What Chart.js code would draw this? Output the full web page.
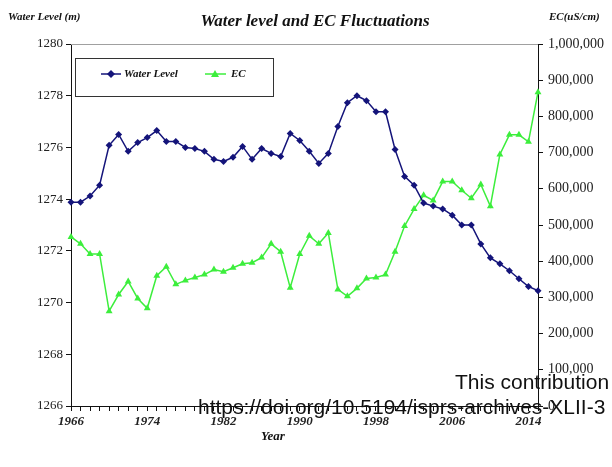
<!DOCTYPE html>
<html>
<head>
<meta charset="utf-8">
<script src="https://cdn.jsdelivr.net/npm/chart.js@4/dist/chart.umd.min.js"></script>
<style>
  html, body { margin: 0; padding: 0; background: #fff; }
  #wrap { position: relative; width: 612px; height: 467px; }
  canvas { display: block; }
  .wm { position: absolute; font-family: "Liberation Sans", Arial, sans-serif; font-size: 21px; color: #111; white-space: nowrap; }
</style>
</head>
<body>
<div id="wrap">
  <canvas id="grafico" width="612" height="467"></canvas>
  <div class="wm" style="left:455px; top:370px;">This contribution</div>
  <div class="wm" style="left:198px; top:395px;">https://doi.org/10.5194/isprs-archives-XLII-3</div>
</div>
<script>
// anos (um ponto por ano)
const anos = [1966,1967,1968,1969,1970,1971,1972,1973,1974,1975,
              1976,1977,1978,1979,1980,1981,1982,1983,1984,1985,
              1986,1987,1988,1989,1990,1991,1992,1993,1994,1995,
              1996,1997,1998,1999,2000,2001,2002,2003,2004,2005,
              2006,2007,2008,2009,2010,2011,2012,2013,2014,2015];

// nível da água (m)
const nivelAgua = [1273.88,1273.88,1274.12,1274.54,1276.08,1276.5,1275.85,1276.19,1276.38,1276.65,
                   1276.23,1276.23,1276.0,1275.96,1275.85,1275.54,1275.46,1275.62,1276.04,1275.54,
                   1275.96,1275.77,1275.65,1276.54,1276.27,1275.85,1275.38,1275.77,1276.81,1277.73,
                   1278.0,1277.81,1277.38,1277.38,1275.92,1274.88,1274.54,1273.85,1273.73,1273.62,
                   1273.38,1273.0,1273.0,1272.27,1271.73,1271.5,1271.23,1270.92,1270.62,1270.46];

// condutividade elétrica (uS/cm)
const ec = [467000,448000,420000,420000,262000,308000,344000,297000,270000,360000,
            385000,336000,347000,355000,363000,377000,371000,382000,393000,396000,
            410000,448000,426000,327000,420000,470000,448000,478000,322000,303000,
            325000,352000,355000,363000,426000,497000,544000,582000,568000,620000,
            620000,596000,574000,612000,552000,695000,749000,749000,730000,867000];

const rotuloAnos = [1966, 1974, 1982, 1990, 1998, 2006, 2014]; // anos mostrados no eixo x

const AZUL = '#14147a';
const VERDE = '#3cee3c';
const serif = '"Liberation Serif", "Times New Roman", serif';

// textos extras, moldura superior e legenda com caixa
const extras = {
  id: 'extras',
  afterDraw(chart) {
    const c = chart.ctx;
    const a = chart.chartArea;
    c.save();
    // linha cinza no topo da área do gráfico
    c.strokeStyle = '#a0a0a0';
    c.lineWidth = 1;
    c.beginPath();
    c.moveTo(a.left, a.top + 0.5);
    c.lineTo(a.right, a.top + 0.5);
    c.stroke();

    c.fillStyle = '#111';
    c.textBaseline = 'middle';
    c.font = 'bold italic 17px ' + serif;
    c.textAlign = 'center';
    c.fillText('Water level and EC Fluctuations', 315, 22);

    c.font = 'bold italic 11px ' + serif;
    c.textAlign = 'left';
    c.fillText('Water Level (m)', 8, 17);
    c.fillText('EC(uS/cm)', 549, 17);

    c.font = 'bold italic 13px ' + serif;
    c.textAlign = 'center';
    c.fillText('Year', 273, 437);

    // legenda
    c.strokeStyle = '#333';
    c.strokeRect(75.5, 58.5, 198, 38);
    const ly = 74;
    c.lineWidth = 1.5;
    c.strokeStyle = AZUL;
    c.beginPath(); c.moveTo(101, ly); c.lineTo(121, ly); c.stroke();
    c.fillStyle = AZUL;
    c.beginPath();
    c.moveTo(111, ly - 4); c.lineTo(115, ly); c.lineTo(111, ly + 4); c.lineTo(107, ly);
    c.closePath(); c.fill();
    c.strokeStyle = VERDE;
    c.beginPath(); c.moveTo(205, ly); c.lineTo(226, ly); c.stroke();
    c.fillStyle = VERDE;
    c.beginPath();
    c.moveTo(215, ly - 4); c.lineTo(219, ly + 3); c.lineTo(211, ly + 3);
    c.closePath(); c.fill();

    c.fillStyle = '#111';
    c.font = 'bold italic 11px ' + serif;
    c.textAlign = 'left';
    c.fillText('Water Level', 124, ly);
    c.fillText('EC', 231, ly);
    c.restore();
  }
};

new Chart(document.getElementById('grafico'), {
  type: 'line',
  data: {
    labels: anos,
    datasets: [
      {
        label: 'Water Level',
        data: nivelAgua,
        yAxisID: 'y',
        borderColor: AZUL,
        backgroundColor: AZUL,
        borderWidth: 1.5,
        pointStyle: 'rectRot',
        pointRadius: 3.5,
        pointBorderWidth: 0,
        tension: 0
      },
      {
        label: 'EC',
        data: ec,
        yAxisID: 'y1',
        borderColor: VERDE,
        backgroundColor: VERDE,
        borderWidth: 1.5,
        pointStyle: 'triangle',
        pointRadius: 4,
        pointBorderWidth: 0,
        tension: 0
      }
    ]
  },
  options: {
    responsive: false,
    animation: false,
    layout: { padding: { top: 44, left: 0, right: 0, bottom: 0 } },
    plugins: {
      legend: { display: false },
      title: { display: false },
      tooltip: { enabled: false }
    },
    scales: {
      x: {
        type: 'category',
        offset: false,
        afterFit: s => { s.height = 61; },
        border: { color: '#111', width: 1 },
        grid: { drawOnChartArea: false, color: '#111', tickLength: 5 },
        ticks: {
          autoSkip: false,
          maxRotation: 0,
          padding: 3,
          color: '#222',
          font: { family: serif, size: 13, style: 'italic', weight: 'bold' },
          callback: function (v, i) {
            const ano = this.getLabelForValue(v);
            return rotuloAnos.includes(ano) ? String(ano) : '';
          }
        }
      },
      y: {
        position: 'left',
        min: 1266,
        max: 1280,
        afterFit: s => { s.width = 71; },
        border: { color: '#111', width: 1 },
        grid: { drawOnChartArea: false, color: '#111', tickLength: 5 },
        ticks: {
          stepSize: 2,
          padding: 3,
          color: '#222',
          font: { family: serif, size: 13 },
          callback: v => String(v) // sem separador de milhar
        }
      },
      y1: {
        position: 'right',
        min: 0,
        max: 1000000,
        afterFit: s => { s.width = 74; },
        border: { color: '#111', width: 1 },
        grid: { drawOnChartArea: false, color: '#111', tickLength: 5 },
        ticks: {
          stepSize: 100000,
          padding: 5,
          color: '#222',
          font: { family: serif, size: 14 },
          callback: v => v.toLocaleString('en-US')
        }
      }
    }
  },
  plugins: [extras]
});
</script>
</body>
</html>
